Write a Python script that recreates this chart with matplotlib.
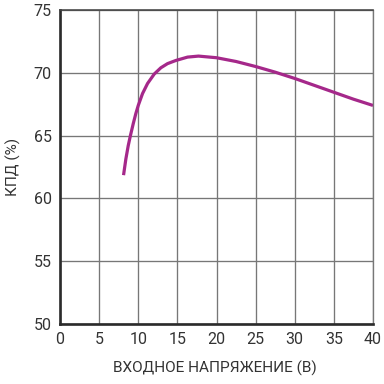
import matplotlib
matplotlib.use("Agg")
import matplotlib.pyplot as plt

plt.rcParams["font.family"] = ["Roboto", "DejaVu Sans"]

# Data
v_in = [8.12, 8.42, 8.72, 8.98, 9.36, 9.69, 10.0, 10.55, 11.19, 12.04, 12.89, 13.74,
        14.8, 16.3, 17.7, 20.0, 22.5, 25.0, 27.5, 30.0, 32.5, 35.0, 37.5, 40.0]
eff = [61.85, 63.15, 64.2, 64.95, 65.95, 66.75, 67.4, 68.35, 69.15, 69.9, 70.4, 70.73,
       70.98, 71.25, 71.33, 71.2, 70.9, 70.5, 70.05, 69.55, 69.0, 68.45, 67.9, 67.4]

x_ticks = [0, 5, 10, 15, 20, 25, 30, 35, 40]
y_ticks = [50, 55, 60, 65, 70, 75]

fig = plt.figure(figsize=(4, 4), dpi=96)
ax = fig.add_axes([60 / 384, 1 - 324 / 384, 313 / 384, 314 / 384])

ax.plot(v_in, eff, color="#a5288a", linewidth=2.4, solid_capstyle="butt")

ax.set_xlim(0, 40)
ax.set_ylim(50, 75)
ax.set_xticks(x_ticks)
ax.set_yticks(y_ticks)
ax.grid(True, color="#777777", linewidth=1.0)
ax.set_axisbelow(True)
ax.tick_params(length=0, labelsize=12, colors="#333333", pad=6)

for side in ["left", "bottom"]:
    ax.spines[side].set_color("#2b2b2b")
    ax.spines[side].set_linewidth(2.0)
ax.spines["top"].set_color("#444444")
ax.spines["top"].set_linewidth(1.2)
ax.spines["right"].set_color("#777777")
ax.spines["right"].set_linewidth(1.0)

ax.set_xlabel("ВХОДНОЕ НАПРЯЖЕНИЕ (В)", fontsize=11.5, color="#333333")
ax.set_ylabel("КПД (%)", fontsize=11.5, color="#333333")
ax.xaxis.set_label_coords(0.495, -44 / 314, transform=ax.transAxes)
ax.yaxis.set_label_coords(-47 / 313, 0.5, transform=ax.transAxes)
ax.xaxis.label.set_va("center")
ax.yaxis.label.set_va("center")

fig.savefig("out.png", dpi=96)
